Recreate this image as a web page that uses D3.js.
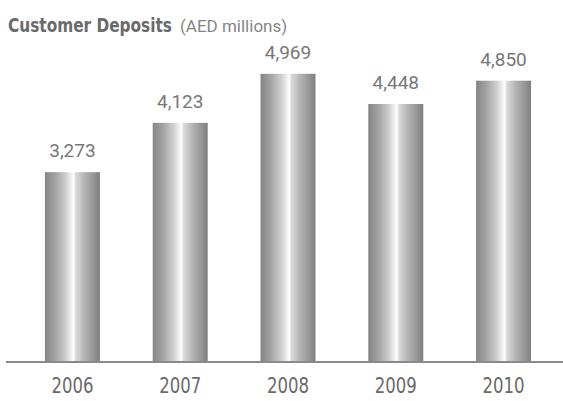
<!DOCTYPE html>
<html>
<head>
<meta charset="utf-8">
<script src="https://cdn.jsdelivr.net/npm/d3@7"></script>
<style>
  html, body { margin: 0; padding: 0; background: #fff; }
  svg { display: block; }
</style>
</head>
<body>
<svg id="chart" width="563" height="401"></svg>
<script>
// Customer deposits by year, AED millions
const years = ["2006", "2007", "2008", "2009", "2010"];
const deposits = [3273, 4123, 4969, 4448, 4850];
const valueLabels = ["3,273", "4,123", "4,969", "4,448", "4,850"];

const W = 563, H = 401;
const baseY = 362;

const svg = d3.select("#chart");

// metallic cylinder look for the bars
const defs = svg.append("defs");
const grad = defs.append("linearGradient")
  .attr("id", "metal")
  .attr("x1", "0%").attr("x2", "100%").attr("y1", "0%").attr("y2", "0%");
[
  [0, "#858585"], [0.18, "#a2a2a2"], [0.38, "#cfcfcf"], [0.48, "#f0f0f0"],
  [0.52, "#ffffff"], [0.56, "#dadada"], [0.72, "#b4b4b4"], [0.9, "#939393"], [1, "#7e7e7e"]
].forEach(([o, c]) => grad.append("stop").attr("offset", o).attr("stop-color", c));

const x = d3.scaleBand()
  .domain(years)
  .range([18, 558])
  .paddingInner(0.49)
  .paddingOuter(0.25);

const y = d3.scaleLinear()
  .domain([0, 5000])
  .range([baseY, baseY - 290]);

// bars
svg.append("g").selectAll("rect")
  .data(deposits)
  .join("rect")
  .attr("x", (d, i) => x(years[i]))
  .attr("width", x.bandwidth())
  .attr("y", d => y(d))
  .attr("height", d => baseY - y(d))
  .attr("fill", "url(#metal)");

// value labels above bars
svg.append("g").selectAll("text")
  .data(deposits)
  .join("text")
  .attr("x", (d, i) => x(years[i]) + x.bandwidth() / 2)
  .attr("y", d => y(d) - 15)
  .attr("text-anchor", "middle")
  .attr("font-family", "Roboto, 'Liberation Sans', sans-serif")
  .attr("font-size", 19)
  .attr("fill", "#777")
  .text((d, i) => valueLabels[i]);

// baseline
svg.append("line")
  .attr("x1", 6).attr("x2", W)
  .attr("y1", baseY).attr("y2", baseY)
  .attr("stroke", "#8a8a8a")
  .attr("stroke-width", 2);

// year axis labels (condensed)
const xAxis = d3.axisBottom(x).tickSize(0).tickPadding(0);
const gx = svg.append("g")
  .attr("transform", `translate(0,${baseY})`)
  .call(xAxis);
gx.select(".domain").remove();
gx.selectAll("text")
  .attr("dy", null)
  .attr("y", 31)
  .attr("font-family", "'DejaVu Sans Condensed', 'Liberation Sans', sans-serif")
  .attr("font-size", 21)
  .attr("fill", "#6a6a6a")
  .attr("textLength", 42)
  .attr("lengthAdjust", "spacingAndGlyphs");

// title: condensed bold name, squeezed horizontally to fit, then the unit
const titleMain = svg.append("text")
  .attr("x", 0)
  .attr("y", 0)
  .attr("font-family", "'DejaVu Sans Condensed', 'Liberation Sans', sans-serif")
  .attr("font-weight", "bold")
  .attr("font-size", 19)
  .attr("fill", "#6a6a6a")
  .text("Customer Deposits");
const natural = titleMain.node().getComputedTextLength();
const sx = Math.min(1, 164 / natural);
titleMain.attr("transform", `translate(8,32) scale(${sx},1)`);

svg.append("text")
  .attr("x", 180)
  .attr("y", 32)
  .attr("font-family", "Roboto, 'Liberation Sans', sans-serif")
  .attr("font-size", 17)
  .attr("fill", "#858585")
  .text("(AED millions)");
</script>
</body>
</html>
